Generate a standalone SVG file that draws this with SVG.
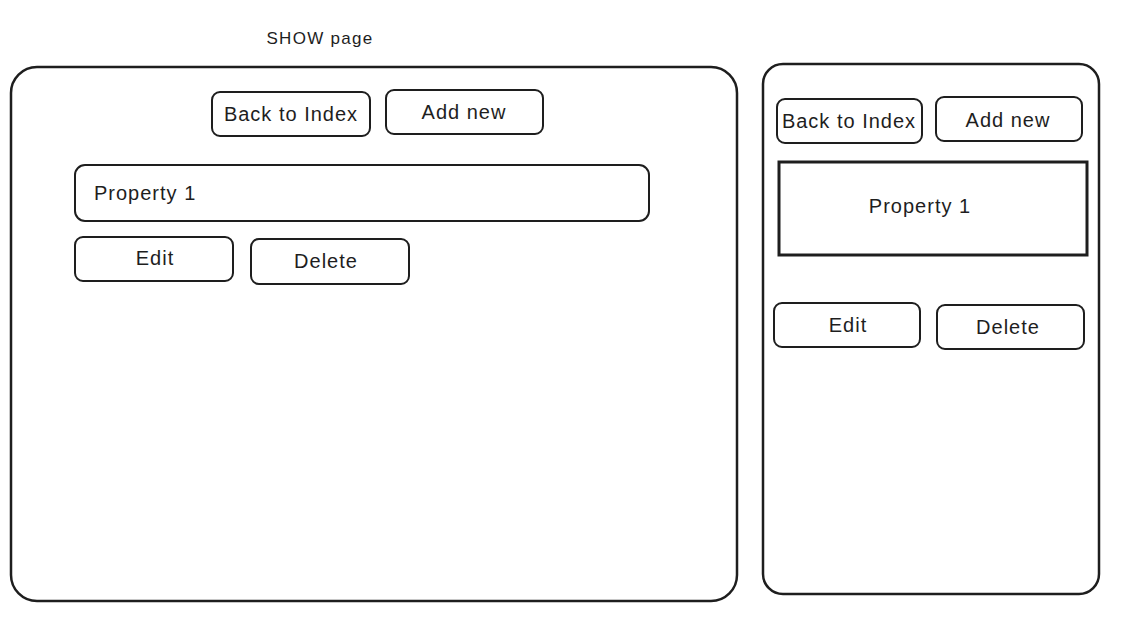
<svg xmlns="http://www.w3.org/2000/svg" width="1122" height="630" viewBox="0 0 1122 630">
<style>
.frame{fill:#fff;stroke:#1e1e1e;stroke-width:2.5}
.btn{fill:none;stroke:#1e1e1e;stroke-width:2}
.box{fill:none;stroke:#1e1e1e;stroke-width:3}
text{font-family:"Liberation Sans",Arial,sans-serif;fill:#1e1e1e;font-size:20px;letter-spacing:1px}
.c{text-anchor:middle;dominant-baseline:central}
</style>
<rect width="1122" height="630" fill="#fff"/>
<g id="title"><text class="c" x="320" y="38" style="font-size:17px;letter-spacing:1.3px">SHOW page</text></g>
<g id="desktop-frame"><rect class="frame" x="11" y="67" width="726" height="534" rx="26"/></g>
<g id="desktop-back"><rect class="btn" x="212" y="92" width="158" height="44" rx="8"/><text class="c" x="291" y="114">Back to Index</text></g>
<g id="desktop-add"><rect class="btn" x="386" y="90" width="157" height="44" rx="8"/><text class="c" x="464" y="112">Add new</text></g>
<g id="desktop-property"><rect class="btn" x="75" y="165" width="574" height="56" rx="10"/><text x="94" y="193" dominant-baseline="central">Property 1</text></g>
<g id="desktop-edit"><rect class="btn" x="75" y="237" width="158" height="44" rx="8"/><text class="c" x="155" y="258">Edit</text></g>
<g id="desktop-delete"><rect class="btn" x="251" y="239" width="158" height="45" rx="8"/><text class="c" x="326" y="261">Delete</text></g>
<g id="mobile-frame"><rect class="frame" x="763" y="64" width="336" height="530" rx="20"/></g>
<g id="mobile-back"><rect class="btn" x="777" y="99" width="145" height="44" rx="8"/><text class="c" x="849" y="121">Back to Index</text></g>
<g id="mobile-add"><rect class="btn" x="936" y="97" width="146" height="44" rx="8"/><text class="c" x="1008" y="120">Add new</text></g>
<g id="mobile-property"><rect class="box" x="779" y="162" width="308" height="93"/><text class="c" x="920" y="206">Property 1</text></g>
<g id="mobile-edit"><rect class="btn" x="774" y="303" width="146" height="44" rx="8"/><text class="c" x="848" y="325">Edit</text></g>
<g id="mobile-delete"><rect class="btn" x="937" y="305" width="147" height="44" rx="8"/><text class="c" x="1008" y="327">Delete</text></g>
<g id="connectors"></g>
</svg>
